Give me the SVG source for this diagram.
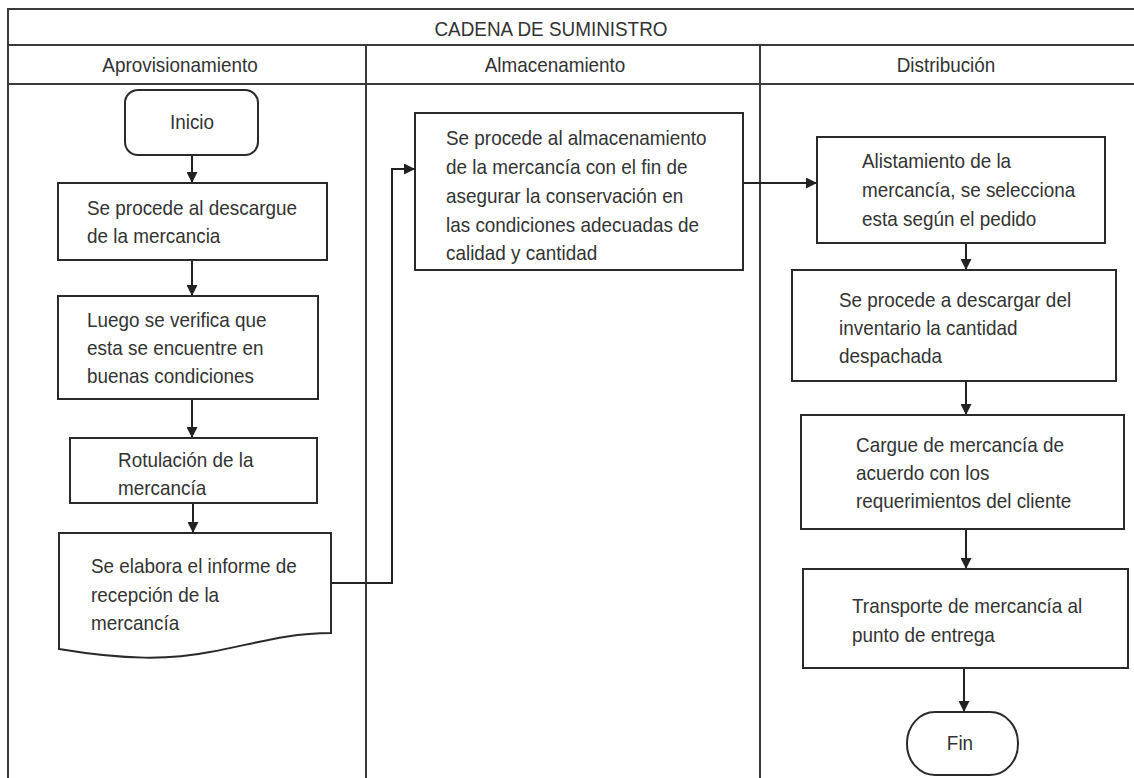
<svg xmlns="http://www.w3.org/2000/svg" width="1134" height="778" viewBox="0 0 1134 778">
<style>
.lane{fill:none;stroke:#3a3a3a;stroke-width:2}
.box{fill:#fff;stroke:#2a2a2a;stroke-width:2}
.t{font-family:"Liberation Sans",Arial,sans-serif;font-size:21px;fill:#333;transform-box:fill-box;transform-origin:left center;transform:scaleX(0.9)}
.c{text-anchor:middle;transform-origin:center}
.cn{fill:none;stroke:#222;stroke-width:2}
</style>
<defs>
<marker id="ah" viewBox="0 0 10 10" refX="10" refY="5" markerWidth="11" markerHeight="11" markerUnits="userSpaceOnUse" orient="auto">
<path d="M0,0 L10,5 L0,10 Z" fill="#222"/>
</marker>
</defs>
<rect width="1134" height="778" fill="#fff"/>
<g id="pool">
<path class="lane" d="M8,778 V9 H1134 M8,45 H1134 M8,84 H1134 M366,45 V778 M760,45 V778"/>
<text class="t c" x="551" y="36">CADENA DE SUMINISTRO</text>
<text class="t c" x="180" y="72">Aprovisionamiento</text>
<text class="t c" x="555" y="72">Almacenamiento</text>
<text class="t c" x="946" y="72">Distribución</text>
</g>
<g id="connectors">
<path class="cn" d="M192,155 V183" marker-end="url(#ah)"/>
<path class="cn" d="M192,260 V296" marker-end="url(#ah)"/>
<path class="cn" d="M192,399 V438" marker-end="url(#ah)"/>
<path class="cn" d="M193,503 V533" marker-end="url(#ah)"/>
<path class="cn" d="M331,583 H392 V169 H415" marker-end="url(#ah)"/>
<path class="cn" d="M743,183 H817" marker-end="url(#ah)"/>
<path class="cn" d="M966,243 V270" marker-end="url(#ah)"/>
<path class="cn" d="M966,381 V415" marker-end="url(#ah)"/>
<path class="cn" d="M966,529 V569" marker-end="url(#ah)"/>
<path class="cn" d="M964,668 V712" marker-end="url(#ah)"/>
</g>
<g id="inicio">
<rect class="box" x="125" y="90" width="133" height="65" rx="13"/>
<text class="t c" x="192" y="129">Inicio</text>
</g>
<g id="descargue">
<rect class="box" x="58" y="183" width="269" height="77"/>
<text class="t" x="87" y="215">Se procede al descargue</text>
<text class="t" x="87" y="243">de la mercancia</text>
</g>
<g id="verifica">
<rect class="box" x="58" y="296" width="260" height="103"/>
<text class="t" x="87" y="327">Luego se verifica que</text>
<text class="t" x="87" y="355">esta se encuentre en</text>
<text class="t" x="87" y="383">buenas condiciones</text>
</g>
<g id="rotulacion">
<rect class="box" x="70" y="438" width="247" height="65"/>
<text class="t" x="118" y="467">Rotulación de la</text>
<text class="t" x="118" y="495">mercancía</text>
</g>
<g id="informe">
<path class="box" d="M59,533 H331 V633 C285,633 250,645 210,652 C170,660 125,660 59,649 Z"/>
<text class="t" x="91" y="573">Se elabora el informe de</text>
<text class="t" x="91" y="602">recepción de la</text>
<text class="t" x="91" y="630">mercancía</text>
</g>
<g id="almacenamiento">
<rect class="box" x="415" y="113" width="328" height="157"/>
<text class="t" x="446" y="145">Se procede al almacenamiento</text>
<text class="t" x="446" y="174">de la mercancía con el fin de</text>
<text class="t" x="446" y="203">asegurar la conservación en</text>
<text class="t" x="446" y="232">las condiciones adecuadas de</text>
<text class="t" x="446" y="260">calidad y cantidad</text>
</g>
<g id="alistamiento">
<rect class="box" x="817" y="137" width="288" height="106"/>
<text class="t" x="862" y="168">Alistamiento de la</text>
<text class="t" x="862" y="197">mercancía, se selecciona</text>
<text class="t" x="862" y="226">esta según el pedido</text>
</g>
<g id="descargar">
<rect class="box" x="792" y="270" width="324" height="111"/>
<text class="t" x="839" y="307">Se procede a descargar del</text>
<text class="t" x="839" y="335">inventario la cantidad</text>
<text class="t" x="839" y="363">despachada</text>
</g>
<g id="cargue">
<rect class="box" x="801" y="415" width="323" height="114"/>
<text class="t" x="856" y="452">Cargue de mercancía de</text>
<text class="t" x="856" y="480">acuerdo con los</text>
<text class="t" x="856" y="508">requerimientos del cliente</text>
</g>
<g id="transporte">
<rect class="box" x="803" y="569" width="325" height="99"/>
<text class="t" x="852" y="613">Transporte de mercancía al</text>
<text class="t" x="852" y="642">punto de entrega</text>
</g>
<g id="fin">
<rect class="box" x="907" y="712" width="111" height="63" rx="28" ry="31"/>
<text class="t c" x="960" y="750">Fin</text>
</g>
</svg>
